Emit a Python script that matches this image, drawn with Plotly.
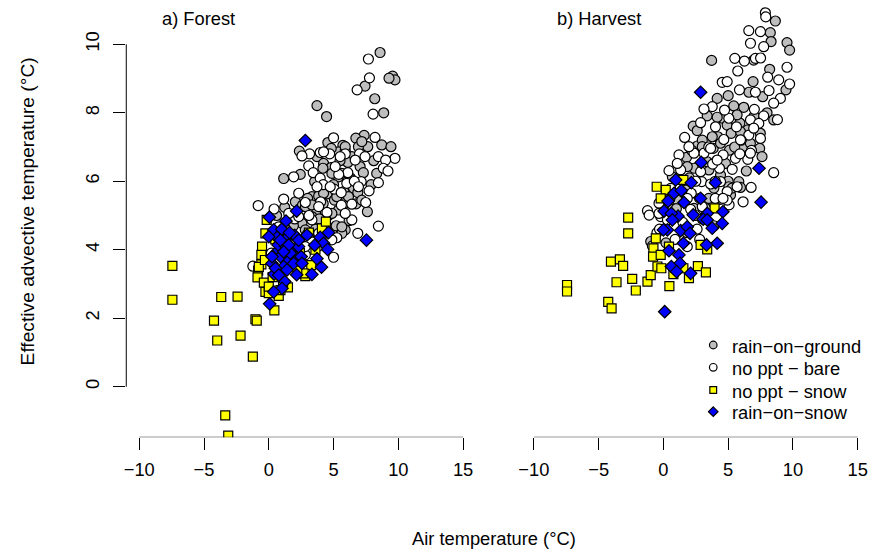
import plotly.graph_objects as go

# ---------------- data ----------------
# a) Forest
forest_ground_x = [8.59, 9.56, 9.74, 9.28, 7.43, 8.18, 8.87, 3.72, 4.46, 7.36, 6.72, 8.72, 9.43, 5.72, 7.64, 6.92, 4.56, 5.38, 2.36, 3.72,
                   6.41, 4.23, 1.15, 2.43, 3.54, 5.38, 7.05, 7.30, 8.33, 6.54, 6.87, 3.33, 3.85, 4.49, 5.07, 2.05, 1.23, 3.72, 4.36, 5.38,
                   5.90, 6.74, 7.61, 5.90, 5.64, 4.87, 2.56, 3.33, 3.90, 5.90, 6.10, 5.50, 4.80, 6.30, 5.00, 5.80, 4.20, 4.60, 3.00, 2.60,
                   6.20, 5.20, 1.90, 1.30, 0.60, 3.60, 4.30, 8.10, 7.90, 4.82, 5.90, 7.18, 4.18, 4.87, 5.64, 6.41, 4.23, 5.25, 6.15, 7.18,
                   2.82, 3.33, 4.87, 2.82, 4.36, 5.64]
forest_ground_y = [9.76, 9.07, 8.96, 9.01, 8.78, 8.41, 8.00, 8.21, 7.89, 7.34, 7.26, 7.06, 7.01, 7.05, 7.01, 7.01, 7.13, 6.86, 6.88, 6.72,
                   6.72, 6.52, 6.08, 6.20, 5.99, 6.13, 6.43, 6.25, 6.23, 5.80, 5.67, 5.55, 5.57, 5.63, 5.45, 5.40, 5.24, 5.13, 5.11, 5.16,
                   5.36, 5.34, 5.11, 4.58, 4.48, 4.48, 4.77, 4.97, 4.90, 6.90, 6.55, 6.60, 6.40, 6.10, 5.90, 5.70, 5.35, 5.00, 5.50, 5.30,
                   4.85, 4.70, 4.70, 4.60, 5.00, 4.60, 4.30, 6.60, 5.90, 6.96, 7.01, 7.16, 6.38, 6.23, 6.23, 6.04, 5.65, 5.55, 5.55, 5.45,
                   5.26, 5.31, 5.06, 4.58, 4.58, 4.67]

forest_bare_x = [7.69, 7.77, 6.82, 8.05, 5.00, 8.20, 3.97, 3.15, 2.56, 4.70, 5.90, 8.46, 9.74, 9.02, 3.08, 3.43, 3.97, 1.92, 8.84, 9.20,
                 6.10, 7.13, 8.46, 6.02, 7.74, 5.05, 5.59, 1.15, -0.82, 0.41, 2.82, 4.49, 6.41, 7.48, 6.41, 8.46, 6.87, 5.25, 3.33, 5.00,
                 -1.23, 2.82, 2.99, 4.20, 5.40, 6.60, 4.00, 3.10, 2.00, 1.50, 0.90, 0.20, -0.50, 2.40, 3.80, 4.40, 7.00, 5.60, 1.00, 0.40,
                 5.51, 4.23, 7.43, 5.13, 6.67, 3.72, 4.74, 6.92, 2.31, 3.85, 5.90, 2.31, 3.85, 4.87, 1.54, 0.77, 2.82]
forest_bare_y = [9.57, 9.02, 8.67, 7.96, 7.27, 7.28, 6.84, 6.80, 6.74, 6.80, 6.80, 6.72, 6.67, 6.62, 6.45, 6.25, 6.09, 6.13, 6.38, 6.30,
                 6.25, 5.99, 5.96, 5.94, 5.72, 5.77, 5.67, 5.48, 5.29, 5.19, 5.38, 5.09, 5.33, 5.38, 4.87, 4.69, 4.48, 4.35, 4.87, 3.78,
                 3.52, 3.85, 4.46, 5.90, 6.20, 6.00, 5.40, 5.00, 4.90, 4.40, 4.20, 3.90, 3.70, 4.20, 4.10, 4.60, 6.80, 5.30, 3.40, 3.00,
                 6.72, 6.86, 6.72, 6.43, 6.62, 5.84, 5.84, 5.84, 5.65, 5.26, 5.06, 4.97, 4.48, 4.29, 5.06, 4.67, 4.09]

forest_snow_x = [-7.44, -7.44, -3.67, -2.41, -4.23, -1.03, -0.93, -3.98, -2.18, -1.23, -3.36, -3.13, 0.43, -0.52, -0.57, -0.57, -0.82,
                 -0.87, -0.38, -0.26, 0.77, 1.48, 2.82, 3.28, 4.10, 4.41, -0.16, 2.69, -0.77, 0.00, 0.30, 1.10, 2.20, 3.60, 0.50, -0.30,
                 3.10, 2.40, -0.26, 0.00, 0.90]
forest_snow_y = [3.53, 2.54, 2.62, 2.63, 1.93, 1.97, 1.93, 1.35, 1.49, 0.88, -0.84, -1.43, 2.23, 4.09, 3.85, 3.57, 3.39,
                 3.19, 3.04, 2.77, 2.65, 2.90, 3.23, 3.55, 4.62, 4.82, 4.87, 3.31, 3.50, 2.73, 3.20, 3.00, 3.40, 4.00, 4.30, 3.70,
                 4.50, 3.90, 4.48, 2.92, 2.82]

forest_ros_x = [2.82, 0.05, 2.15, 1.33, 7.54, 0.38, 0.64, 1.28, 2.00, 0.00, 2.95, 3.97, 4.61, 4.23, 3.54, 4.54, 3.72, 4.07, 3.33, 2.15,
                1.23, 0.41, 1.02, 0.38, 0.07, 0.77, 1.54, 1.15, 0.25, 1.79, 2.30, 0.90, 2.05, 0.51, 1.66, 2.50, 0.72, 1.30, 1.00, 1.60,
                0.90, 1.54, 2.31, 1.15, 1.92, 0.77, 1.41, 0.25, 2.56]
forest_ros_y = [7.19, 4.95, 5.13, 4.84, 4.28, 4.58, 4.36, 4.30, 4.42, 4.38, 4.43, 4.36, 4.50, 4.19, 4.13, 4.01, 3.74, 3.49, 3.28, 3.27,
                3.07, 3.29, 2.87, 2.77, 2.42, 3.99, 3.70, 3.51, 3.60, 4.04, 4.09, 3.80, 3.80, 3.46, 3.90, 3.80, 4.14, 4.10, 4.60, 4.50,
                4.28, 4.14, 4.28, 3.94, 3.60, 3.26, 3.41, 3.80, 3.60]

# b) Harvest
harvest_ground_x = [8.64, 8.25, 8.31, 9.54, 9.74, 6.97, 3.72, 8.20, 6.92, 9.46, 7.66, 4.15, 5.43, 6.20, 3.38, 4.54, 2.30, 4.92, 2.61, 2.61,
                    3.84, 5.10, 6.15, 7.43, 1.79, 7.61, 2.36, 3.51, 4.41, 5.82, 5.95, 5.18, 1.72, 4.41, 0.69, -0.98, 5.90, 6.50, 4.20, 3.00,
                    5.50, 4.40, 3.00, 2.00, 5.00, 6.40, 3.90, 2.80, 3.30, 1.20, 7.00, 5.00, 8.00, 6.60, 4.15, 5.69, 5.23, 6.71, 4.41, 3.00,
                    3.38, 4.79, 1.84, 0.69, 5.05, 3.89, 2.36, 1.07, 5.95, 7.48, 8.51, 3.77, 1.00, 3.50, 1.80, 0.20, 3.90, 5.30]
harvest_ground_y = [10.68, 10.34, 10.08, 10.05, 9.83, 9.54, 9.53, 9.27, 8.91, 8.67, 8.47, 8.42, 8.20, 8.16, 7.91, 7.84, 7.61, 7.64, 7.48, 7.03,
                    6.96, 6.91, 7.01, 6.96, 6.70, 6.72, 6.38, 6.33, 6.18, 5.99, 5.82, 5.60, 5.74, 5.47, 5.18, 4.24, 7.70, 7.50, 7.30, 7.20,
                    7.00, 6.60, 6.50, 6.10, 6.00, 6.30, 5.80, 5.50, 5.20, 5.40, 7.90, 8.50, 8.00, 8.60, 7.87, 7.94, 7.40, 7.11, 7.11, 7.01,
                    6.57, 6.52, 6.43, 6.13, 5.84, 5.36, 5.21, 5.45, 7.45, 7.40, 7.79, 7.30, 5.20, 5.50, 4.50, 4.20, 4.70, 5.80]

harvest_bare_x = [7.87, 7.90, 7.49, 6.59, 6.72, 7.74, 7.10, 7.50, 5.51, 6.25, 5.74, 9.54, 8.05, 8.90, 9.74, 4.54, 4.92, 5.87, 8.15, 9.03,
                  8.51, 3.77, 3.13, 7.02, 7.74, 2.87, 4.02, 5.64, 6.72, 7.36, 1.64, 4.66, 6.59, 7.49, 1.20, 3.13, 4.61, 5.56, 6.51, 8.51,
                  0.43, 1.33, 4.33, 5.31, 2.95, 3.64, 6.77, 6.15, 4.92, 2.15, 5.07, -1.23, -1.10, -0.21, 2.10, -0.85, 1.84, 0.31, -0.34,
                  3.50, 2.20, 5.90, 3.80, 2.50, 1.00, 4.00, 3.00, 1.50, 2.60, -0.50, 0.90, 6.00, 6.80, 7.10, 8.80,
                  5.05, 3.64, 4.15, 2.36, 1.07, 2.87, 1.33, 4.41, 5.69, 4.92, 3.00, 1.84, -0.34, 0.31, 6.97, 5.95, 4.72, 6.71, 1.97, 0.56,
                  0.50, 2.50, 4.00, 2.80, -0.30, 4.60]
harvest_bare_y = [10.92, 10.80, 10.37, 10.40, 10.03, 9.93, 9.59, 9.60, 9.59, 9.51, 9.22, 9.33, 9.04, 8.96, 8.84, 8.89, 8.91, 8.67, 8.65, 8.42,
                  8.28, 8.18, 8.11, 8.10, 7.91, 7.71, 7.59, 7.59, 7.79, 7.69, 7.28, 7.22, 7.35, 7.25, 6.77, 6.82, 6.77, 6.67, 6.64, 6.25,
                  6.31, 6.33, 6.38, 6.35, 5.99, 5.92, 5.82, 5.40, 5.70, 5.65, 5.31, 5.14, 5.01, 4.97, 5.18, 4.11, 4.09, 4.87, 5.36,
                  7.00, 6.90, 6.80, 6.50, 6.00, 5.90, 5.50, 4.90, 4.80, 4.60, 4.50, 4.30, 7.20, 6.90, 8.60, 7.80,
                  7.84, 6.96, 6.62, 6.82, 6.52, 6.28, 6.04, 5.99, 5.84, 5.45, 5.26, 5.50, 5.06, 5.45, 7.55, 7.21, 8.08, 6.82, 7.01, 5.79,
                  5.50, 5.00, 6.00, 4.30, 4.60, 5.50]

harvest_snow_x = [-7.44, -7.44, -4.26, -4.00, -4.05, -3.36, -3.11, -3.62, -2.72, -2.72, -2.41, -2.13, -1.23, -0.98, 0.46, -0.77, -0.80,
                  -0.59, -0.52, 0.18, -0.21, 1.54, -0.46, -0.16, 0.77, 1.54, 1.97, 2.66, 3.28, 2.87, 3.38, 3.95, -0.21, 0.43]
harvest_snow_y = [2.97, 2.78, 2.48, 2.29, 3.65, 3.72, 3.53, 3.05, 4.94, 4.48, 3.15, 2.81, 3.07, 3.26, 2.94, 4.04, 3.80,
                  4.33, 5.84, 5.75, 5.50, 6.04, 3.51, 3.46, 3.29, 3.46, 3.17, 3.52, 3.34, 4.14, 4.01, 5.21, 3.85, 4.09]

harvest_ros_x = [2.87, 0.10, 7.38, 7.54, 2.92, 4.02, 0.95, 2.15, 0.82, 1.38, 0.36, 1.59, 2.87, 0.05, 1.13, 0.61, 2.30, 3.38, 4.59, 4.54,
                 3.77, 3.07, 4.15, 3.33, 0.31, 0.69, 1.33, 1.84, 2.05, 0.00, 1.54, 0.43, 1.20, 1.28, 0.61, 1.02, 2.10, 3.38]
harvest_ros_y = [8.60, 2.19, 6.38, 5.39, 6.55, 5.96, 6.04, 5.96, 5.65, 5.73, 5.42, 5.38, 5.50, 5.13, 4.98, 5.06, 5.02, 5.06, 5.11, 4.77,
                 4.63, 4.89, 4.19, 4.14, 4.58, 4.87, 4.56, 4.67, 4.48, 4.58, 4.19, 3.97, 3.85, 3.60, 3.51, 3.36, 3.31, 4.87]

x_ticks = [-10, -5, 0, 5, 10, 15]
x_tick_text = ["\u221210", "\u22125", "0", "5", "10", "15"]
y_ticks = [0, 2, 4, 6, 8, 10]
y_tick_text = ["0", "2", "4", "6", "8", "10"]

series_names = ["rain\u2212on\u2212ground", "no ppt \u2212 bare", "no ppt \u2212 snow", "rain\u2212on\u2212snow"]
series_symbols = ["circle", "circle", "square", "diamond"]
series_colors = ["#BEBEBE", "#FFFFFF", "#FFFF00", "#0000FF"]
series_sizes = [10, 10, 9, 9.6]

# ---------------- figure ----------------
W, H = 871, 549
FONT = "Liberation Sans, Arial, Helvetica, sans-serif"
FS = 18.3

fig = go.Figure()

panels = [
    ("x", "y", [(forest_ground_x, forest_ground_y), (forest_bare_x, forest_bare_y),
                (forest_snow_x, forest_snow_y), (forest_ros_x, forest_ros_y)]),
    ("x2", "y2", [(harvest_ground_x, harvest_ground_y), (harvest_bare_x, harvest_bare_y),
                  (harvest_snow_x, harvest_snow_y), (harvest_ros_x, harvest_ros_y)]),
]
for xa, ya, sets in panels:
    for i, (xs, ys) in enumerate(sets):
        fig.add_trace(go.Scatter(
            x=xs, y=ys, xaxis=xa, yaxis=ya, mode="markers", showlegend=False,
            marker=dict(symbol=series_symbols[i], size=series_sizes[i], color=series_colors[i],
                        line=dict(color="black", width=1.2)),
            hoverinfo="x+y", name=series_names[i]))

# pixel geometry
yb_px, y0_px, y10_px = 437.3, 386.7, 44.3
ppu_y = (y0_px - y10_px) / 10.0
y_lo = (y0_px - yb_px) / ppu_y
y_hi = y0_px / ppu_y
ydom = [(H - yb_px) / H, 1.0]

axis_common = dict(showgrid=False, zeroline=False, showline=False,
                   tickfont=dict(family=FONT, size=FS, color="black"),
                   ticks="outside", ticklen=12, tickwidth=1, tickcolor="black")

fig.update_layout(
    width=W, height=H, margin=dict(l=0, r=0, t=0, b=0),
    paper_bgcolor="white", plot_bgcolor="white",
    font=dict(family=FONT, color="black"),
    xaxis=dict(domain=[123.7 / W, 474.7 / W], range=[-11, 16], tickvals=x_ticks, ticktext=x_tick_text,
               anchor="y", ticklabelstandoff=4, **axis_common),
    xaxis2=dict(domain=[519.7 / W, 870.7 / W], range=[-11, 16], tickvals=x_ticks, ticktext=x_tick_text,
                anchor="y2", ticklabelstandoff=4, **axis_common),
    yaxis=dict(domain=ydom, range=[y_lo, y_hi], tickvals=y_ticks, ticktext=y_tick_text, tickangle=-90,
               anchor="x", ticklabelstandoff=7, **axis_common),
    yaxis2=dict(domain=ydom, range=[y_lo, y_hi], anchor="x2", visible=False),
    showlegend=False,
)

# axis lines spanning only the tick range (as in base R)
line_style = dict(color="black", width=1)
fig.add_shape(type="line", xref="x", yref="y", x0=-10, x1=15, y0=y_lo, y1=y_lo, line=line_style)
fig.add_shape(type="line", xref="x2", yref="y2", x0=-10, x1=15, y0=y_lo, y1=y_lo, line=line_style)
fig.add_shape(type="line", xref="x domain", yref="y", x0=0, x1=0, y0=0, y1=10, line=line_style)

# titles
def px_x(p):
    return p / W

def px_y(p):
    return 1 - p / H

fig.add_annotation(text="a) Forest", xref="paper", yref="paper", x=px_x(157.5), y=px_y(18.5),
                   xanchor="left", yanchor="middle", showarrow=False, font=dict(family=FONT, size=FS))
fig.add_annotation(text="b) Harvest", xref="paper", yref="paper", x=px_x(553.5), y=px_y(18.5),
                   xanchor="left", yanchor="middle", showarrow=False, font=dict(family=FONT, size=FS))
fig.add_annotation(text="Effective advective temperature (\u00b0C)", xref="paper", yref="paper",
                   x=px_x(24.5), y=px_y(211), textangle=-90, xanchor="center", yanchor="middle",
                   showarrow=False, font=dict(family=FONT, size=19.2))
fig.add_annotation(text="Air temperature (\u00b0C)", xref="paper", yref="paper",
                   x=px_x(493), y=px_y(538.5), xanchor="center", yanchor="middle",
                   showarrow=False, font=dict(family=FONT, size=FS))

# legend (base-R style: symbols + labels inside panel b)
leg_sym_x = 712.7
leg_txt_x = 729.5
leg_rows = [345.0, 367.3, 390.0, 411.7]
for i, ry in enumerate(leg_rows):
    sym = series_symbols[i]
    style = dict(xref="paper", yref="paper", fillcolor=series_colors[i], line=dict(color="black", width=1.2))
    if sym == "circle":
        r = 3.8
        fig.add_shape(type="circle", x0=px_x(leg_sym_x - r), x1=px_x(leg_sym_x + r),
                      y0=px_y(ry + r), y1=px_y(ry - r), **style)
    elif sym == "square":
        r = 3.4
        fig.add_shape(type="rect", x0=px_x(leg_sym_x - r), x1=px_x(leg_sym_x + r),
                      y0=px_y(ry + r), y1=px_y(ry - r), **style)
    else:
        r = 4.8
        path = "M {} {} L {} {} L {} {} L {} {} Z".format(
            px_x(leg_sym_x), px_y(ry - r), px_x(leg_sym_x + r), px_y(ry),
            px_x(leg_sym_x), px_y(ry + r), px_x(leg_sym_x - r), px_y(ry))
        fig.add_shape(type="path", path=path, **style)
    fig.add_annotation(text=series_names[i], xref="paper", yref="paper", x=px_x(leg_txt_x), y=px_y(ry + 1),
                       xanchor="left", yanchor="middle", showarrow=False, font=dict(family=FONT, size=FS))

fig.write_html("out.html")
